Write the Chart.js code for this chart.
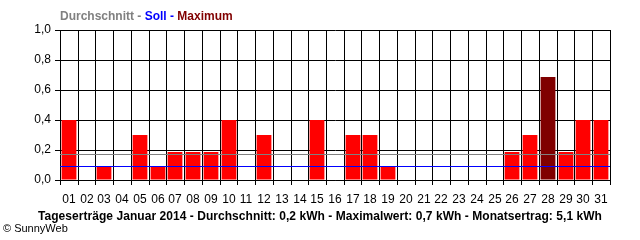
<!DOCTYPE html>
<html>
<head>
<meta charset="utf-8">
<script src="https://cdn.jsdelivr.net/npm/chart.js@4.4.1/dist/chart.umd.min.js"></script>
<style>
  html, body { margin: 0; padding: 0; background: #fff; }
  #wrap { position: relative; width: 640px; height: 240px; font-family: "Liberation Sans", Arial, sans-serif; }
  #chart { position: absolute; left: 0; top: 0; }
  .head { position: absolute; left: 60px; top: 9px; font-size: 12px; font-weight: bold; white-space: nowrap; }
  .foot { position: absolute; left: 0; width: 640px; top: 209px; text-align: center; font-size: 12px; font-weight: bold; white-space: nowrap; letter-spacing: 0.05px; }
  .copy { position: absolute; left: 3px; top: 222px; font-size: 11px; white-space: nowrap; }
</style>
</head>
<body>
<div id="wrap">
  <canvas id="chart" width="640" height="240"></canvas>
  <div class="head"><span style="color:#808080">Durchschnitt - </span><span style="color:#0000ff">Soll - </span><span style="color:#800000">Maximum</span></div>
  <div class="foot">Tageserträge Januar 2014 - Durchschnitt: 0,2 kWh - Maximalwert: 0,7 kWh - Monatsertrag: 5,1 kWh</div>
  <div class="copy">© SunnyWeb</div>
</div>
<script>
// Tage im Januar
const days = ['01','02','03','04','05','06','07','08','09','10','11','12','13','14','15','16',
  '17','18','19','20','21','22','23','24','25','26','27','28','29','30','31'];
// Tagesertrag kWh (aus dem Bild geschaetzt)
const yields = [0.4, 0, 0.09, 0, 0.3, 0.09, 0.19, 0.19, 0.19, 0.4, 0, 0.3, 0, 0, 0.4, 0,
  0.3, 0.3, 0.09, 0, 0, 0, 0, 0, 0, 0.19, 0.3, 0.69, 0.19, 0.4, 0.4];
const average = 0.172;
const target = 0.092;
const yTicks = [0, 0.2, 0.4, 0.6, 0.8, 1.0];

const maxVal = Math.max(...yields);
const barColors = yields.map(v => v === maxVal ? '#800000' : '#ff0000');

const font = { family: '"Liberation Sans", Arial, sans-serif', size: 12 };

// Durchschnitt- und Soll-Linie ueber die ganze Breite
const refLines = {
  id: 'refLines',
  afterDatasetsDraw(chart) {
    const { ctx, chartArea, scales } = chart;
    [[average, '#808080'], [target, '#0000ff']].forEach(([v, c]) => {
      const y = Math.round(scales.y.getPixelForValue(v)) + 0.5;
      ctx.save();
      ctx.strokeStyle = c;
      ctx.lineWidth = 1;
      ctx.beginPath();
      ctx.moveTo(chartArea.left, y);
      ctx.lineTo(chartArea.right, y);
      ctx.stroke();
      ctx.restore();
    });
  }
};

new Chart(document.getElementById('chart'), {
  type: 'bar',
  data: {
    labels: days,
    datasets: [{
      data: yields,
      backgroundColor: barColors,
      barPercentage: 0.87,
      categoryPercentage: 1
    }]
  },
  options: {
    responsive: false,
    animation: false,
    layout: { padding: { top: 30, right: 30, left: 0, bottom: 0 } },
    plugins: { legend: { display: false }, tooltip: { enabled: false } },
    scales: {
      x: {
        alignToPixels: true,
        grid: { color: '#000', lineWidth: 1, tickLength: 5, offset: true },
        border: { color: '#000' },
        ticks: { color: '#000', font: font, maxRotation: 0, autoSkip: false, padding: 7 },
        afterFit: s => { s.height = 60; }
      },
      y: {
        min: 0,
        max: 1,
        alignToPixels: true,
        afterBuildTicks: s => { s.ticks = yTicks.map(v => ({ value: v })); },
        grid: { color: '#000', lineWidth: 1, tickLength: 5 },
        border: { color: '#000' },
        ticks: {
          color: '#000',
          font: font,
          padding: 4,
          callback: v => v.toFixed(1).replace('.', ',')
        },
        afterFit: s => { s.width = 60; }
      }
    }
  },
  plugins: [refLines]
});
</script>
</body>
</html>
